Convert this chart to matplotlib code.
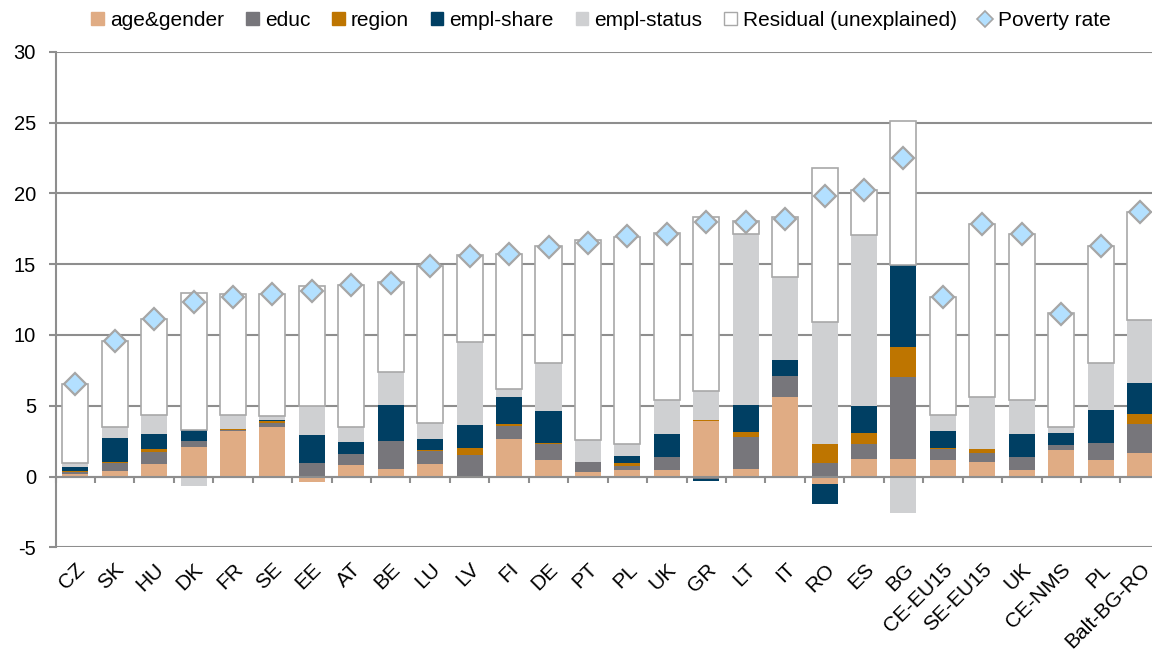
import numpy as np
import matplotlib
matplotlib.use("Agg")
import matplotlib.pyplot as plt
from matplotlib.patches import Patch
from matplotlib.lines import Line2D

plt.rcParams['font.family'] = ['Liberation Sans', 'DejaVu Sans']

countries = ['CZ', 'SK', 'HU', 'DK', 'FR', 'SE', 'EE', 'AT', 'BE', 'LU', 'LV', 'FI', 'DE', 'PT',
             'PL', 'UK', 'GR', 'LT', 'IT', 'RO', 'ES', 'BG', 'CE-EU15', 'SE-EU15', 'UK',
             'CE-NMS', 'PL', 'Balt-BG-RO']

age_gender = [0.15, 0.4, 0.9, 2.1, 3.18, 3.5, -0.37, 0.78, 0.54, 0.9, 0.05, 2.64, 1.15, 0.33,
              0.47, 0.45, 3.95, 0.54, 5.6, -0.52, 1.25, 1.25, 1.15, 1.03, 0.47, 1.88, 1.18, 1.69]
educ = [0.2, 0.52, 0.8, 0.42, 0.12, 0.28, 0.95, 0.78, 1.96, 0.9, 1.46, 0.94, 1.18, 0.7,
        0.3, 0.94, -0.15, 2.24, 1.5, 0.92, 1.03, 5.79, 0.8, 0.61, 0.92, 0.33, 1.18, 2.02]
region = [0.05, 0.12, 0.23, 0.0, 0.03, 0.14, 0.0, 0.03, 0.03, 0.07, 0.47, 0.12, 0.02, 0.02,
          0.21, 0.02, 0.07, 0.35, -0.1, 1.36, 0.82, 2.12, 0.09, 0.31, 0.02, 0.02, 0.03, 0.71]
empl_share = [0.26, 1.65, 1.08, 0.78, -0.1, 0.1, 2.0, 0.87, 2.54, 0.8, 1.65, 1.93, 2.31, -0.1,
              0.49, 1.62, -0.15, 1.93, 1.13, -1.41, 1.9, 5.81, 1.2, 0.0, 1.62, 0.85, 2.28, 2.19]
empl_status = [0.3, 0.8, 1.34, -0.64, 1.04, 0.24, 2.0, 1.04, 2.31, 1.08, 5.89, 0.57, 3.35, 1.53,
               0.85, 2.38, 2.0, 12.05, 5.84, 8.66, 12.09, -2.59, 1.1, 3.67, 2.35, 0.4, 3.34, 4.42]
residual = [5.6, 6.1, 6.75, 9.65, 8.5, 8.65, 8.5, 10.0, 6.35, 11.1, 6.1, 9.5, 8.24, 14.1,
            14.6, 11.76, 12.33, 0.9, 4.26, 10.84, 3.14, 10.16, 8.31, 12.21, 11.78, 8.04, 8.25, 7.64]
poverty_rate = [6.5, 9.6, 11.1, 12.3, 12.7, 12.9, 13.1, 13.5, 13.7, 14.85, 15.55, 15.7, 16.2, 16.5,
                16.95, 17.15, 18.0, 18.0, 18.2, 19.8, 20.2, 22.5, 12.65, 17.85, 17.1, 11.5, 16.25, 18.65]

series_names = ['age&gender', 'educ', 'region', 'empl-share', 'empl-status', 'Residual (unexplained)']
series_vals = [age_gender, educ, region, empl_share, empl_status, residual]
colors = ['#E0AC84', '#77767B', '#BE7500', '#003F63', '#CFD0D2', '#FFFFFF']

W, H = 1152, 653
fig = plt.figure(figsize=(W / 100, H / 100), dpi=100)
ax = fig.add_axes([55.5 / W, 105.7 / H, 28 * 39.44 / W, (547.3 - 51.7) / H])

x = np.arange(len(countries))
pos_bottom = np.zeros(len(countries))
neg_bottom = np.zeros(len(countries))
bw = 0.66
for name, vals, col in zip(series_names, series_vals, colors):
    v = np.array(vals, dtype=float)
    bottom = np.where(v >= 0, pos_bottom, neg_bottom)
    if name.startswith('Residual'):
        ax.bar(x, v, bw, bottom=bottom, color=col, edgecolor='#A8A8A8', linewidth=1.2, zorder=2)
    else:
        ax.bar(x, v, bw, bottom=bottom, color=col, edgecolor='none', linewidth=0, zorder=2)
    pos_bottom = pos_bottom + np.where(v >= 0, v, 0)
    neg_bottom = neg_bottom + np.where(v < 0, v, 0)

ax.plot(x, poverty_rate, linestyle='none', marker='D', markersize=11,
        markerfacecolor='#B3E0FF', markeredgecolor='#A6A6A6', markeredgewidth=1.6, zorder=4)

ax.set_xlim(-0.5, len(countries) - 0.5)
ax.set_ylim(-5, 30)
ax.set_yticks(np.arange(-5, 31, 5))
ax.set_yticklabels([str(v) for v in range(-5, 31, 5)])
ax.yaxis.grid(True, color='#8E8E8E', linewidth=1.5)
ax.set_axisbelow(True)

grid_col = '#8E8E8E'
for s in ['top', 'right']:
    ax.spines[s].set_visible(False)
ax.spines['left'].set_color(grid_col)
ax.spines['left'].set_linewidth(1.5)
ax.spines['bottom'].set_position(('data', 0))
ax.spines['bottom'].set_color(grid_col)
ax.spines['bottom'].set_linewidth(1.5)
ax.spines['bottom'].set_zorder(3)

ax.tick_params(axis='y', length=5, width=1.5, color=grid_col, pad=9, labelsize=14.5)
ax.set_xticks(np.arange(-0.5, len(countries), 1.0))
ax.tick_params(axis='x', length=4, width=1.5, color=grid_col, labelbottom=False)

sec = ax.secondary_xaxis('bottom')
sec.set_xticks(x)
sec.set_xticklabels(countries, rotation=45, ha='right', rotation_mode='anchor')
sec.tick_params(axis='x', length=0, pad=9, labelsize=15)
sec.spines['bottom'].set_visible(False)

handles = [Patch(facecolor=c, edgecolor=('#A8A8A8' if n.startswith('Residual') else c), linewidth=1.0)
           for n, c in zip(series_names, colors)]
handles.append(Line2D([], [], linestyle='none', marker='D', markersize=8,
                      markerfacecolor='#B3E0FF', markeredgecolor='#A6A6A6', markeredgewidth=1.2))
labels = series_names + ['Poverty rate']
fig.legend(handles, labels, loc='center', bbox_to_anchor=(601 / W, 1 - 20 / H), ncol=7,
           frameon=False, fontsize=15, handlelength=0.6, handleheight=0.6,
           handletextpad=0.3, columnspacing=1.05, borderaxespad=0)

fig.savefig('out.png', dpi=100)
